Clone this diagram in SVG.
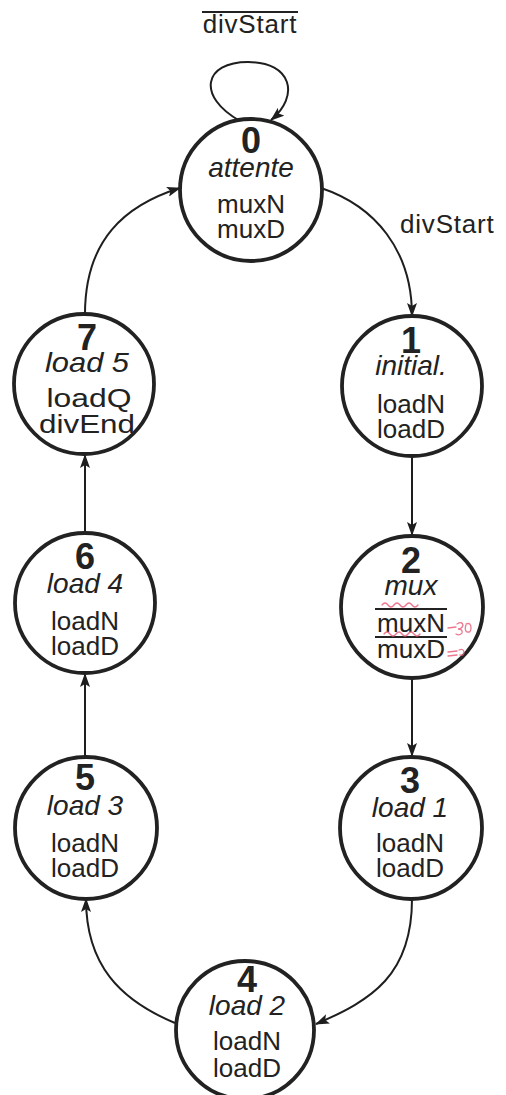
<svg xmlns="http://www.w3.org/2000/svg" width="506" height="1095" viewBox="0 0 506 1095">
  <style>
    .state { fill: #ffffff; stroke: #222222; stroke-width: 3.8; }
    .edge { fill: none; stroke: #1e1e1e; stroke-width: 2; }
    .num { font-family: "Liberation Sans", Arial, sans-serif; font-weight: bold; font-size: 36px; fill: #222222; text-anchor: middle; }
    .name { font-family: "Liberation Sans", Arial, sans-serif; font-style: italic; font-size: 28px; fill: #222222; text-anchor: middle; }
    .out { font-family: "Liberation Sans", Arial, sans-serif; font-size: 26px; fill: #222222; text-anchor: middle; }
    .cond { font-family: "Liberation Sans", Arial, sans-serif; font-size: 26px; letter-spacing: 0.8px; fill: #222222; }
    .bar { stroke: #222222; stroke-width: 2; }
    .ink { fill: none; stroke: #e8607a; stroke-width: 1.3; stroke-linecap: round; opacity: 0.85; }
  </style>
  <defs>
    <marker id="arrow" markerUnits="userSpaceOnUse" markerWidth="14" markerHeight="10" refX="13" refY="5" orient="auto">
      <path d="M0,0 L14,5 L0,10 L3,5 z" fill="#1e1e1e"/>
    </marker>
  </defs>

  <rect width="506" height="1095" fill="#ffffff"/>

  <!-- transitions -->
  <g id="connectors">
    <path class="edge" d="M240,121 C196,96 204,62 248,62 C292,62 300,96 271,120" marker-end="url(#arrow)"/>
    <path class="edge" d="M321,188 C375,206 412,250 412,316" marker-end="url(#arrow)"/>
    <path class="edge" d="M412,456 L412,535" marker-end="url(#arrow)"/>
    <path class="edge" d="M412,678 L412,756" marker-end="url(#arrow)"/>
    <path class="edge" d="M412,899 C412,975 372,1000 316,1024" marker-end="url(#arrow)"/>
    <path class="edge" d="M175,1023 C120,1000 86,965 86,899" marker-end="url(#arrow)"/>
    <path class="edge" d="M85,757 L85,674" marker-end="url(#arrow)"/>
    <path class="edge" d="M85,533 L85,455" marker-end="url(#arrow)"/>
    <path class="edge" d="M85,314 C85,240 125,205 180,188" marker-end="url(#arrow)"/>
    <line class="bar" x1="202" y1="12" x2="298" y2="12"/>
    <text class="cond" x="250" y="33" text-anchor="middle">divStart</text>
    <text class="cond" x="400" y="233">divStart</text>
  </g>

  <g id="s0">
    <circle class="state" cx="251" cy="190" r="71"/>
    <text class="num" x="251" y="153">0</text>
    <text class="name" x="251" y="177">attente</text>
    <text class="out" x="251" y="213">muxN</text>
    <text class="out" x="251" y="238">muxD</text>
  </g>

  <g id="s1">
    <circle class="state" cx="412" cy="386" r="70"/>
    <text class="num" x="411" y="353">1</text>
    <text class="name" x="411" y="375">initial.</text>
    <text class="out" x="411" y="413">loadN</text>
    <text class="out" x="411" y="438">loadD</text>
  </g>

  <g id="s2">
    <circle class="state" cx="412" cy="607" r="71"/>
    <text class="num" x="411" y="573">2</text>
    <text class="name" x="411" y="595">mux</text>
    <line class="bar" x1="375" y1="609" x2="447" y2="609"/>
    <text class="out" x="411" y="632">muxN</text>
    <line class="bar" x1="375" y1="637" x2="447" y2="637"/>
    <text class="out" x="411" y="658">muxD</text>
    <!-- red pen marks -->
    <path class="ink" d="M382,605 q3,-4 6,0 t6,0 t6,0 t6,0 t6,0 t6,0"/>
    <path class="ink" d="M384,634 q3,-4 6,0 t6,0 t6,0 t6,0 t6,0 t6,0"/>
    <path class="ink" d="M448,628 l8,-1 M457,624 q5,-3 6,1 q-1,4 -5,4 q5,0 4,4 q-2,3 -6,1 M466,624 q5,-2 5,4 q0,5 -4,4 q-3,-2 -1,-7"/>
    <path class="ink" d="M448,652 l9,-1 M448,656 l9,-1 M459,650 q4,-2 5,2 q0,4 -4,3"/>
  </g>

  <g id="s3">
    <circle class="state" cx="411" cy="828" r="71"/>
    <text class="num" x="410" y="793">3</text>
    <text class="name" x="410" y="817">load 1</text>
    <text class="out" x="410" y="852">loadN</text>
    <text class="out" x="410" y="877">loadD</text>
  </g>

  <g id="s4">
    <circle class="state" cx="245" cy="1030" r="69"/>
    <text class="num" x="247" y="992">4</text>
    <text class="name" x="247" y="1015">load 2</text>
    <text class="out" x="247" y="1050">loadN</text>
    <text class="out" x="247" y="1077">loadD</text>
  </g>

  <g id="s5">
    <circle class="state" cx="86" cy="828" r="71"/>
    <text class="num" x="85" y="790">5</text>
    <text class="name" x="85" y="815">load 3</text>
    <text class="out" x="85" y="852">loadN</text>
    <text class="out" x="85" y="877">loadD</text>
  </g>

  <g id="s6">
    <circle class="state" cx="85" cy="603" r="70"/>
    <text class="num" x="85" y="569">6</text>
    <text class="name" x="85" y="593">load 4</text>
    <text class="out" x="85" y="630">loadN</text>
    <text class="out" x="85" y="655">loadD</text>
  </g>

  <g id="s7">
    <circle class="state" cx="84" cy="384" r="70"/>
    <text class="num" x="87" y="350">7</text>
    <text class="name" x="87" y="372" textLength="84" lengthAdjust="spacingAndGlyphs">load 5</text>
    <text class="out" x="89" y="407" textLength="85" lengthAdjust="spacingAndGlyphs">loadQ</text>
    <text class="out" x="87" y="433" textLength="96" lengthAdjust="spacingAndGlyphs">divEnd</text>
  </g>
</svg>
